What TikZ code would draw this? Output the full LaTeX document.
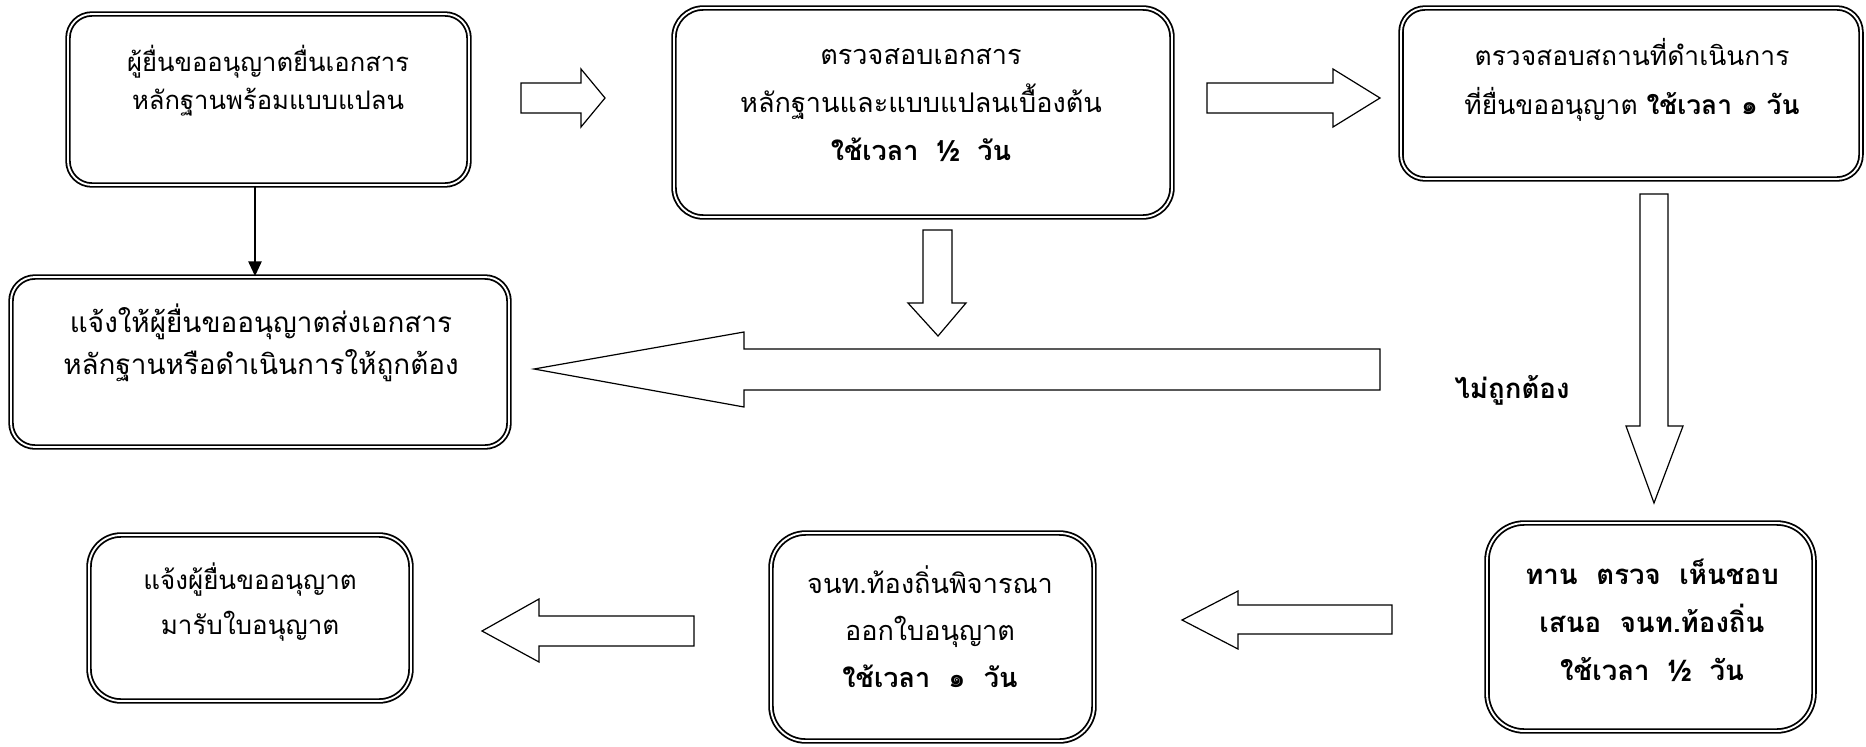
\documentclass[tikz,border=0pt]{standalone}
\usepackage{fontspec}
\setmainfont[Script=Thai]{Loma}
\usetikzlibrary{fit,arrows.meta}
\begin{document}
\begin{tikzpicture}[x=0.75pt,y=-0.75pt,
  box/.style={draw, line width=1.35pt, double=white, double distance=1.4pt, rounded corners=#1, inner sep=0pt},
  box/.default=18pt,
  txt/.style={align=center, inner sep=0pt},
  blk/.style={draw, line width=0.9pt, fill=white, line join=miter}]
\useasboundingbox (0,0) rectangle (1866,746);
% boxes
\node[box, fit={(68,14) (469,185)}] (b1) {};
\node[box=22pt, fit={(674,8) (1172,217)}] (b2) {};
\node[box, fit={(1401,8) (1861,179)}] (b3) {};
\node[box, fit={(11,277) (509,447)}] (b4) {};
\node[box=24pt, fit={(89,535) (411,701)}] (b5) {};
\node[box=26pt, fit={(771,533) (1094,741)}] (b6) {};
\node[box=28pt, fit={(1487,523) (1814,731)}] (b7) {};
% texts
\node[txt, font=\fontsize{19.2}{28.5}\selectfont] (t1) at (268,81) {ผู้ยื่นขออนุญาตยื่นเอกสาร\\หลักฐานพร้อมแบบแปลน};
\node[txt, font=\fontsize{20.3}{36}\selectfont] (t2) at (921,105) {ตรวจสอบเอกสาร\\หลักฐานและแบบแปลนเบื้องต้น\\{\bfseries ใช้เวลา\ \ ½\ \ วัน}};
\node[txt, font=\fontsize{19.8}{36.5}\selectfont] (t3) at (1632,80) {ตรวจสอบสถานที่ดำเนินการ\\ที่ยื่นขออนุญาต {\bfseries ใช้เวลา ๑ วัน}};
\node[txt, font=\fontsize{20.9}{31.5}\selectfont] (t4) at (261,343) {แจ้งให้ผู้ยื่นขออนุญาตส่งเอกสาร\\หลักฐานหรือดำเนินการให้ถูกต้อง};
\node[txt, font=\fontsize{19.5}{33.75}\selectfont] (t5) at (250,602) {แจ้งผู้ยื่นขออนุญาต\\มารับใบอนุญาต};
\node[txt, font=\fontsize{20.3}{35.25}\selectfont] (t6) at (930,627) {จนท.ท้องถิ่นพิจารณา\\ออกใบอนุญาต\\{\bfseries ใช้เวลา\ \ ๑\ \ วัน}};
\node[txt, font=\bfseries\fontsize{20.7}{36}\selectfont] (t7) at (1652,620) {ทาน\ \ ตรวจ\ \ เห็นชอบ\\เสนอ\ \ จนท.ท้องถิ่น\\ใช้เวลา\ \ ½\ \ วัน};
\node[txt, font=\bfseries\fontsize{20.7}{24}\selectfont] (lbl) at (1512,390) {ไม่ถูกต้อง};
% thin arrow
\coordinate (s) at (255,0);
\draw[line width=1pt, -{Triangle[length=11pt,width=10pt]}] (b1.south -| s) -- (b4.north -| s);
% block arrows
\draw[blk] (521,83) -- (581,83) -- (581,69) -- (605,98) -- (581,127) -- (581,113) -- (521,113) -- cycle;
\draw[blk] (1207,83) -- (1333,83) -- (1333,69) -- (1380,98) -- (1333,127) -- (1333,113) -- (1207,113) -- cycle;
\draw[blk] (923,230) -- (952,230) -- (952,303) -- (966,303) -- (938,336) -- (908,303) -- (923,303) -- cycle;
\draw[blk] (1380,349) -- (744,349) -- (744,332) -- (534,369) -- (744,407) -- (744,390) -- (1380,390) -- cycle;
\draw[blk] (1640,194) -- (1668,194) -- (1668,426) -- (1683,426) -- (1654,503) -- (1626,426) -- (1640,426) -- cycle;
\draw[blk] (1392,605) -- (1238,605) -- (1238,591) -- (1182,620) -- (1238,649) -- (1238,634) -- (1392,634) -- cycle;
\draw[blk] (694,616) -- (539,616) -- (539,599) -- (482,631) -- (539,662) -- (539,646) -- (694,646) -- cycle;
\end{tikzpicture}
\end{document}
